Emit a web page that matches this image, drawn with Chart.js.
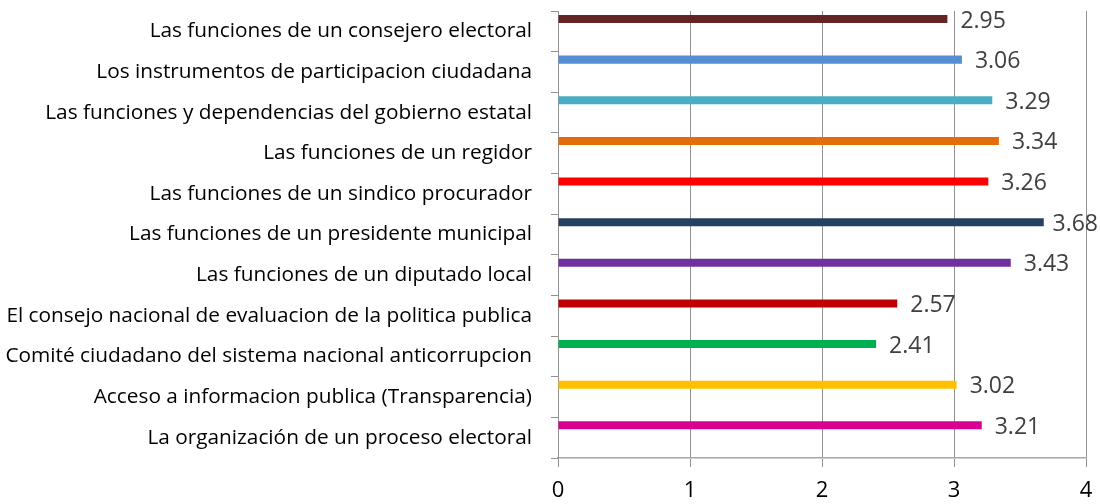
<!DOCTYPE html>
<html>
<head>
<meta charset="utf-8">
<script src="https://cdn.jsdelivr.net/npm/chart.js@4/dist/chart.umd.min.js"></script>
<style>
html,body{margin:0;padding:0;background:#fff;}
#wrap{width:1100px;height:504px;position:relative;}
</style>
</head>
<body>
<div id="wrap"><canvas id="c" width="1100" height="504"></canvas></div>
<script>
const categories = [
  "Las funciones de un consejero electoral",
  "Los instrumentos de participacion ciudadana",
  "Las funciones y dependencias del gobierno estatal",
  "Las funciones de un regidor",
  "Las funciones de un sindico procurador",
  "Las funciones de un presidente municipal",
  "Las funciones de un diputado local",
  "El consejo nacional de evaluacion de la politica publica",
  "Comité ciudadano del sistema nacional anticorrupcion",
  "Acceso a informacion publica (Transparencia)",
  "La organización de un proceso electoral"
];
const values = [2.95, 3.06, 3.29, 3.34, 3.26, 3.68, 3.43, 2.57, 2.41, 3.02, 3.21];
const barColors = ["#632423", "#558ED5", "#4BACC6", "#E46C0A", "#FF0000", "#254061", "#7030A0", "#C00000", "#00B050", "#FFC000", "#D9008F"];
const xTicks = [0, 1, 2, 3, 4];

const FONT = "'Open Sans'";
const GRID = "#929292";

const valueLabels = {
  id: 'valueLabels',
  afterDatasetsDraw(chart) {
    const ctx = chart.ctx;
    const meta = chart.getDatasetMeta(0);
    ctx.save();
    ctx.font = "23px " + FONT;
    ctx.fillStyle = "#404040";
    ctx.textBaseline = "middle";
    ctx.textAlign = "left";
    meta.data.forEach((bar, i) => {
      const txt = values[i].toFixed(2);
      const w = ctx.measureText(txt).width;
      let x = bar.x + 13;
      if (x + w > chart.width - 2) x = chart.width - 2 - w;
      ctx.fillText(txt, x, bar.y + 2);
    });
    ctx.restore();
  }
};

new Chart(document.getElementById('c'), {
  type: 'bar',
  data: {
    labels: categories,
    datasets: [
      { data: values, backgroundColor: barColors, borderWidth: 0 },
      { data: categories.map(() => null) },
      { data: categories.map(() => null) }
    ]
  },
  options: {
    indexAxis: 'y',
    responsive: false,
    animation: false,
    layout: { padding: { top: 11, right: 14, left: 0, bottom: 0 } },
    plugins: { legend: { display: false }, tooltip: { enabled: false } },
    datasets: { bar: { categoryPercentage: 0.91, barPercentage: 0.65 } },
    scales: {
      x: {
        min: 0, max: 4,
        afterBuildTicks(scale) { scale.ticks = xTicks.map(v => ({ value: v })); },
        afterFit(scale) { scale.height = 46; scale.paddingLeft = 0; scale.paddingRight = 0; },
        border: { display: true, color: "#a6a6a6", width: 1.5 },
        grid: { color: GRID, lineWidth: 1, tickLength: 9, drawTicks: true },
        ticks: { color: "#000", font: { family: "Open Sans", size: 22 }, padding: 11 }
      },
      y: {
        afterFit(scale) { scale.width = 558; scale.paddingTop = 0; scale.paddingBottom = 0; },
        border: { display: true, color: GRID },
        grid: { offset: true, drawOnChartArea: false, color: GRID, tickLength: 7 },
        ticks: { color: "#000", font: { family: "Open Sans", size: 20.8 }, padding: 19 }
      }
    }
  },
  plugins: [valueLabels]
});
</script>
</body>
</html>
